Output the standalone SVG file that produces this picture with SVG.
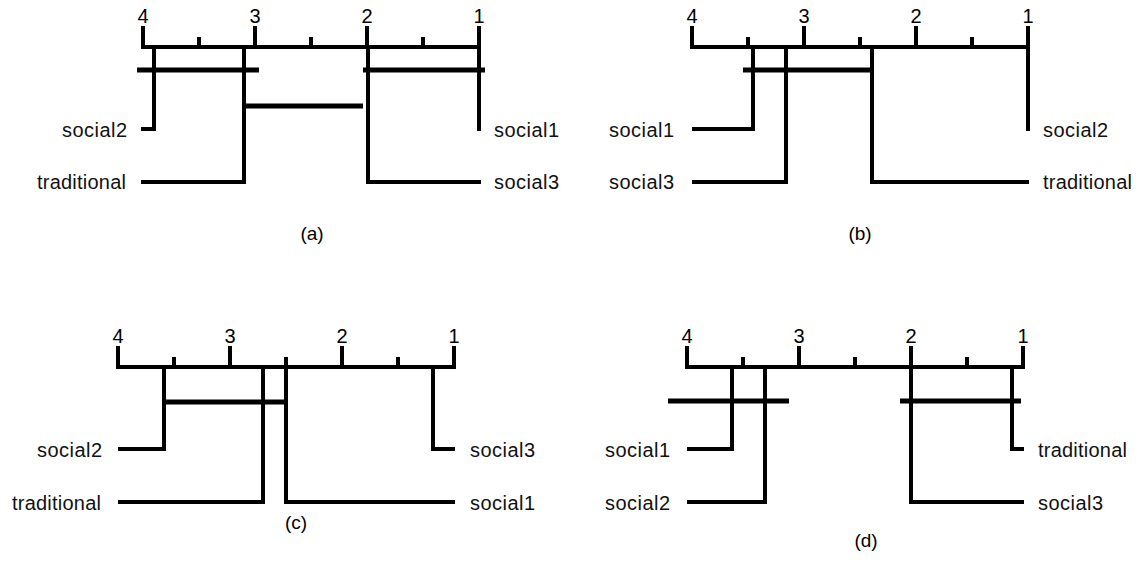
<svg xmlns="http://www.w3.org/2000/svg" width="1142" height="576" viewBox="0 0 1142 576">
<style>
.ln{fill:none;stroke:#000;stroke-width:4;stroke-linecap:butt;stroke-linejoin:miter}
.bar{fill:none;stroke:#000;stroke-width:5}
.num{font-family:"Liberation Sans",Arial,sans-serif;font-size:20px;text-anchor:middle;fill:#000}
.lbl{font-family:"Liberation Sans",Arial,sans-serif;font-size:20px;fill:#111}
.cap{font-family:"Liberation Sans",Arial,sans-serif;font-size:19px;text-anchor:middle;fill:#000}
</style>
<rect width="1142" height="576" fill="#fff"/>

<!-- Panel (a) -->
<g id="panel-a">
  <g id="a-axis">
    <path class="ln" d="M143,26 V47 H479"/>
    <path class="ln" d="M199,37 V47 M255,26 V47 M311,37 V47 M367,26 V47 M423,37 V47"/>
    <text class="num" x="143" y="23">4</text>
    <text class="num" x="255" y="23">3</text>
    <text class="num" x="367" y="23">2</text>
    <text class="num" x="479" y="23">1</text>
  </g>
  <g id="a-connectors">
    <path class="ln" d="M154,47 V129 H141"/>
    <path class="ln" d="M244,47 V182 H141"/>
    <path class="ln" d="M479,26 V131"/>
    <path class="ln" d="M368,47 V182 H481"/>
    <path class="bar" d="M137,70 H259"/>
    <path class="bar" d="M363,70 H485"/>
    <path class="bar" d="M244,106 H363"/>
  </g>
  <g id="a-social2"><text class="lbl" x="62" y="137" textLength="65" lengthAdjust="spacing">social2</text></g>
  <g id="a-traditional"><text class="lbl" x="37" y="189" textLength="89" lengthAdjust="spacing">traditional</text></g>
  <g id="a-social1"><text class="lbl" x="494" y="137" textLength="65" lengthAdjust="spacing">social1</text></g>
  <g id="a-social3"><text class="lbl" x="494" y="189" textLength="65" lengthAdjust="spacing">social3</text></g>
  <text class="cap" x="312" y="240">(a)</text>
</g>

<!-- Panel (b) -->
<g id="panel-b">
  <g id="b-axis">
    <path class="ln" d="M692,26 V47 H1028"/>
    <path class="ln" d="M748,37 V47 M804,26 V47 M860,37 V47 M916,26 V47 M972,37 V47"/>
    <text class="num" x="692" y="23">4</text>
    <text class="num" x="804" y="23">3</text>
    <text class="num" x="916" y="23">2</text>
    <text class="num" x="1028" y="23">1</text>
  </g>
  <g id="b-connectors">
    <path class="ln" d="M753,47 V129 H692"/>
    <path class="ln" d="M786,47 V182 H692"/>
    <path class="ln" d="M872,47 V182 H1029"/>
    <path class="ln" d="M1028,26 V131"/>
    <path class="bar" d="M743,70 H874"/>
  </g>
  <g id="b-social1"><text class="lbl" x="609" y="137" textLength="65" lengthAdjust="spacing">social1</text></g>
  <g id="b-social3"><text class="lbl" x="609" y="189" textLength="65" lengthAdjust="spacing">social3</text></g>
  <g id="b-social2"><text class="lbl" x="1043" y="137" textLength="65" lengthAdjust="spacing">social2</text></g>
  <g id="b-traditional"><text class="lbl" x="1043" y="189" textLength="89" lengthAdjust="spacing">traditional</text></g>
  <text class="cap" x="860" y="240">(b)</text>
</g>

<!-- Panel (c) -->
<g id="panel-c">
  <g id="c-axis">
    <path class="ln" d="M118,346 V367 H454 V346"/>
    <path class="ln" d="M174,357 V367 M230,346 V367 M286,357 V367 M342,346 V367 M398,357 V367"/>
    <text class="num" x="118" y="343">4</text>
    <text class="num" x="230" y="343">3</text>
    <text class="num" x="342" y="343">2</text>
    <text class="num" x="454" y="343">1</text>
  </g>
  <g id="c-connectors">
    <path class="ln" d="M164,367 V449 H118"/>
    <path class="ln" d="M263,367 V502 H118"/>
    <path class="ln" d="M286,367 V502 H455"/>
    <path class="ln" d="M433,367 V449 H455"/>
    <path class="bar" d="M164,402 H287"/>
  </g>
  <g id="c-social2"><text class="lbl" x="37" y="457" textLength="65" lengthAdjust="spacing">social2</text></g>
  <g id="c-traditional"><text class="lbl" x="12" y="510" textLength="89" lengthAdjust="spacing">traditional</text></g>
  <g id="c-social3"><text class="lbl" x="470" y="457" textLength="65" lengthAdjust="spacing">social3</text></g>
  <g id="c-social1"><text class="lbl" x="470" y="510" textLength="65" lengthAdjust="spacing">social1</text></g>
  <text class="cap" x="296" y="529">(c)</text>
</g>

<!-- Panel (d) -->
<g id="panel-d">
  <g id="d-axis">
    <path class="ln" d="M687,346 V367 H1023 V346"/>
    <path class="ln" d="M743,357 V367 M799,346 V367 M855,357 V367 M911,346 V367 M967,357 V367"/>
    <text class="num" x="687" y="343">4</text>
    <text class="num" x="799" y="343">3</text>
    <text class="num" x="911" y="343">2</text>
    <text class="num" x="1023" y="343">1</text>
  </g>
  <g id="d-connectors">
    <path class="ln" d="M732,367 V449 H687"/>
    <path class="ln" d="M765,367 V502 H687"/>
    <path class="ln" d="M911,367 V502 H1024"/>
    <path class="ln" d="M1012,367 V449 H1024"/>
    <path class="bar" d="M668,401 H789"/>
    <path class="bar" d="M900,401 H1021"/>
  </g>
  <g id="d-social1"><text class="lbl" x="605" y="457" textLength="65" lengthAdjust="spacing">social1</text></g>
  <g id="d-social2"><text class="lbl" x="605" y="510" textLength="65" lengthAdjust="spacing">social2</text></g>
  <g id="d-traditional"><text class="lbl" x="1038" y="457" textLength="89" lengthAdjust="spacing">traditional</text></g>
  <g id="d-social3"><text class="lbl" x="1038" y="510" textLength="65" lengthAdjust="spacing">social3</text></g>
  <text class="cap" x="866" y="547">(d)</text>
</g>
</svg>
